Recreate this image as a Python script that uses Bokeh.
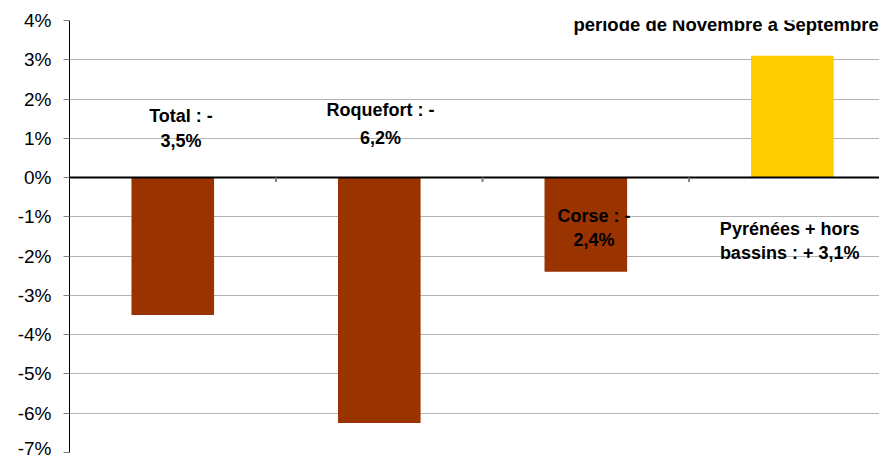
from bokeh.plotting import figure
from bokeh.models import Range1d, FixedTicker, PrintfTickFormatter, ColumnDataSource
from bokeh.core.properties import value
from bokeh.embed import file_html
from bokeh.resources import INLINE

# ---- data ----
categories = ["Total", "Roquefort", "Corse", "Pyrénées + hors bassins"]
variation = [-3.5, -6.25, -2.4, 3.1]
bar_colors = ["#993300", "#993300", "#993300", "#FFCC00"]
label_line1 = ["Total : -", "Roquefort : -", "Corse : -", "Pyrénées + hors"]
label_line2 = ["3,5%", "6,2%", "2,4%", "bassins : + 3,1%"]
title_text = "période de Novembre à Septembre"
y_ticks = [-7, -6, -5, -4, -3, -2, -1, 0, 1, 2, 3, 4]

# ---- layout (label placement) ----
xpos = [i + 0.5 for i in range(len(categories))]
boundaries = [1, 2, 3]
lab_dx = [0.04, 0.006, 0.04, -0.013]
lab_y1 = [1.58, 1.71, -0.99, -1.32]
lab_y2 = [0.92, 1.00, -1.60, -1.93]

FONT = value("Liberation Sans")

p = figure(width=879, height=458, output_backend="svg", toolbar_location=None,
           x_range=Range1d(0, 3.922), y_range=Range1d(-7, 4),
           min_border_left=69, min_border_right=0, min_border_top=20, min_border_bottom=6)
p.outline_line_color = None
p.background_fill_color = "white"
p.border_fill_color = "white"
p.xaxis.visible = False

src = ColumnDataSource(dict(x=xpos, top=variation, color=bar_colors))
p.vbar(x="x", top="top", bottom=0, width=0.4, fill_color="color", line_color=None, source=src)

# y axis
p.yaxis.ticker = FixedTicker(ticks=y_ticks)
p.yaxis.formatter = PrintfTickFormatter(format="%d%%")
p.yaxis.major_label_text_font = "Liberation Sans"
p.yaxis.major_label_text_font_size = "19px"
p.yaxis.major_label_text_color = "#000000"
p.yaxis.major_tick_out = 6
p.yaxis.major_tick_in = 0
p.yaxis.minor_tick_line_color = None
p.yaxis.axis_line_color = "#000000"
p.yaxis.major_tick_line_color = "#808080"
p.yaxis.major_label_standoff = 12

p.xgrid.grid_line_color = None
p.ygrid.ticker = FixedTicker(ticks=y_ticks)
p.ygrid.grid_line_color = "#b3b3b3"
p.ygrid.level = "underlay"

# zero line (category axis) with its tick marks
p.segment(x0=[0], y0=[0], x1=[3.922], y1=[0], line_color="#000000", line_width=2)
p.segment(x0=boundaries, y0=[0] * 3, x1=boundaries, y1=[-0.11] * 3,
          line_color="#808080", line_width=2)

lx = [x + d for x, d in zip(xpos, lab_dx)]
p.text(x=lx, y=lab_y1, text=label_line1, text_font=FONT, text_font_style="bold",
       text_font_size="18px", text_align="center", text_baseline="middle", text_color="#000000")
p.text(x=lx, y=lab_y2, text=label_line2, text_font=FONT, text_font_style="bold",
       text_font_size="18px", text_align="center", text_baseline="middle", text_color="#000000")

p.text(x=[2.44], y=[3.90], text=[title_text], text_font=FONT, text_font_style="bold",
       text_font_size="18.5px", text_align="left", text_baseline="middle", text_color="#000000")

open("out.html", "w").write(file_html(p, INLINE))
